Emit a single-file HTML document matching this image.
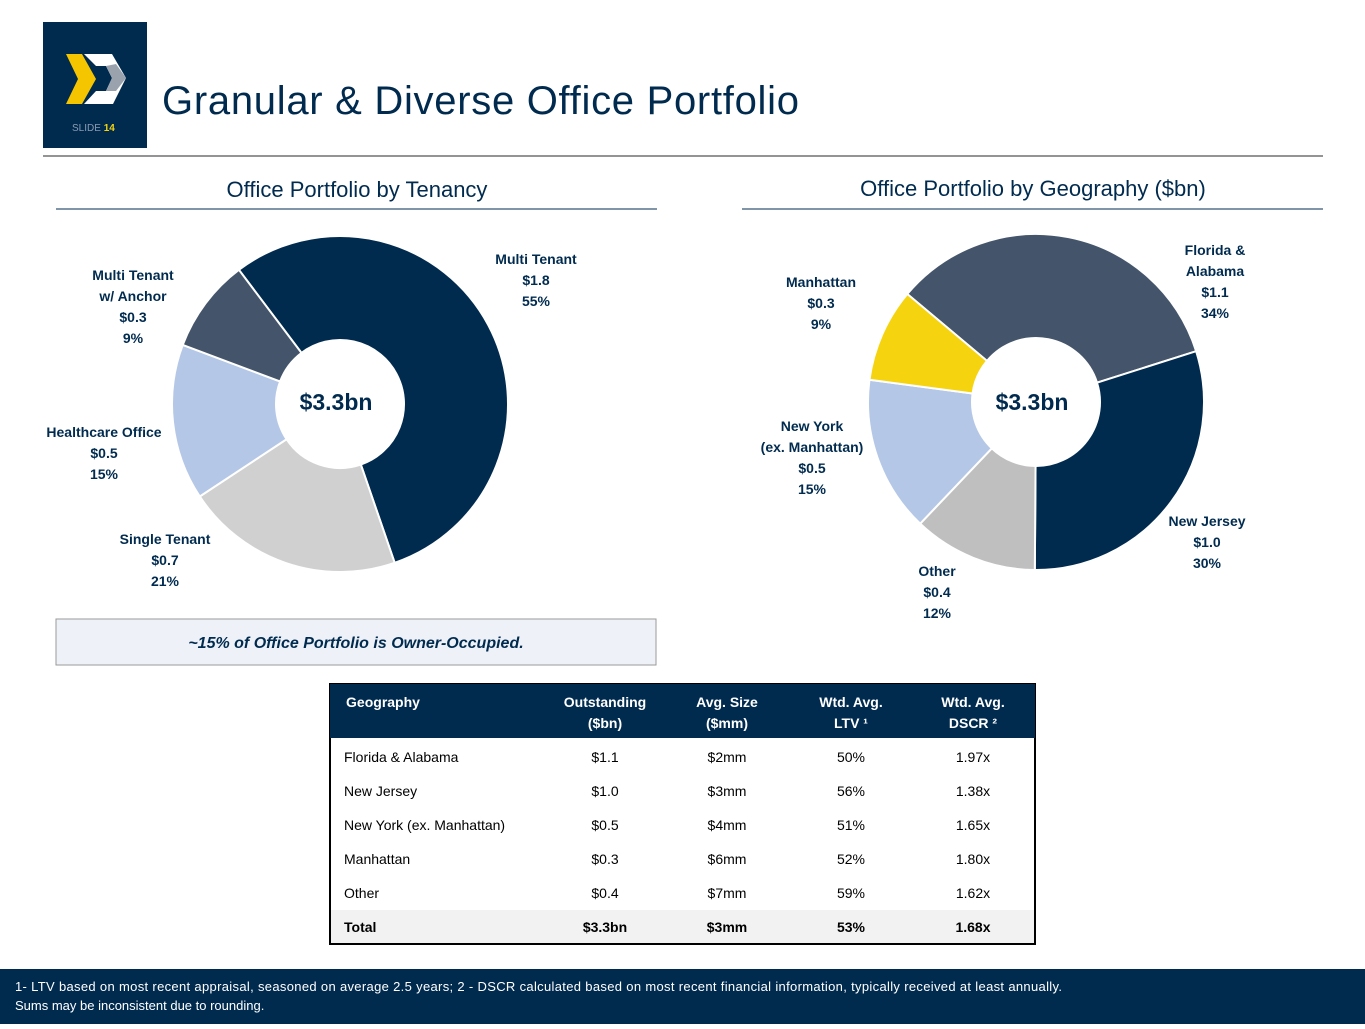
<!DOCTYPE html>
<html><head><meta charset="utf-8"><style>
body{margin:0;width:1365px;height:1024px;overflow:hidden;background:#fff;font-family:"Liberation Sans",sans-serif}
svg text{font-family:"Liberation Sans",sans-serif}
</style></head><body>
<svg id="s" width="1365" height="1024" viewBox="0 0 1365 1024" xmlns="http://www.w3.org/2000/svg">
<g>
<rect x="43" y="22" width="104" height="126" fill="#002b4f"/>
<polygon points="66,54 82,54 96,79 82,104 66,104 78,79" fill="#f5c500"/>
<path d="M84,54 L112,54 L126,78 L113,104 L84,104 L96,91 L106,91 L112,78 L106,66 L96,66 Z" fill="#fff"/>
<path d="M106,66 L112,78 L106,91 L116,91 L126,78 L116,64 Z" fill="#9aa3ad"/>
<text x="72" y="131" font-size="10" fill="#8a9bb0">SLIDE <tspan fill="#f5d40f" font-weight="bold">14</tspan></text>
</g>
<text x="162" y="114" font-size="40" fill="#002b4f" textLength="637">Granular &amp; Diverse Office Portfolio</text>
<line x1="43" y1="156" x2="1323" y2="156" stroke="#555" stroke-width="1.2"/>
<text x="357" y="197" font-size="22" fill="#002b4f" text-anchor="middle">Office Portfolio by Tenancy</text>
<line x1="56" y1="209" x2="657" y2="209" stroke="#002b4f"/>
<text x="1033" y="196" font-size="22" fill="#002b4f" text-anchor="middle">Office Portfolio by Geography ($bn)</text>
<line x1="742" y1="209" x2="1323" y2="209" stroke="#002b4f"/>
<g id="d1"></g><g id="d2"></g>
<text x="336" y="410" font-size="23" font-weight="bold" fill="#002b4f" text-anchor="middle">$3.3bn</text>
<text x="1032" y="410" font-size="23" font-weight="bold" fill="#002b4f" text-anchor="middle">$3.3bn</text>
<g font-size="14" font-weight="bold" fill="#002b4f" text-anchor="middle">
<text x="536" y="264">Multi Tenant<tspan x="536" dy="21">$1.8</tspan><tspan x="536" dy="21">55%</tspan></text>
<text x="133" y="280">Multi Tenant<tspan x="133" dy="21">w/ Anchor</tspan><tspan x="133" dy="21">$0.3</tspan><tspan x="133" dy="21">9%</tspan></text>
<text x="104" y="437">Healthcare Office<tspan x="104" dy="21">$0.5</tspan><tspan x="104" dy="21">15%</tspan></text>
<text x="165" y="544">Single Tenant<tspan x="165" dy="21">$0.7</tspan><tspan x="165" dy="21">21%</tspan></text>
<text x="1215" y="255">Florida &amp;<tspan x="1215" dy="21">Alabama</tspan><tspan x="1215" dy="21">$1.1</tspan><tspan x="1215" dy="21">34%</tspan></text>
<text x="821" y="287">Manhattan<tspan x="821" dy="21">$0.3</tspan><tspan x="821" dy="21">9%</tspan></text>
<text x="812" y="431">New York<tspan x="812" dy="21">(ex. Manhattan)</tspan><tspan x="812" dy="21">$0.5</tspan><tspan x="812" dy="21">15%</tspan></text>
<text x="1207" y="526">New Jersey<tspan x="1207" dy="21">$1.0</tspan><tspan x="1207" dy="21">30%</tspan></text>
<text x="937" y="576">Other<tspan x="937" dy="21">$0.4</tspan><tspan x="937" dy="21">12%</tspan></text>
</g>
<rect x="56" y="619" width="600" height="46" fill="#eef2f8" stroke="#999"/>
<text x="356" y="648" font-size="16" font-weight="bold" font-style="italic" fill="#002b4f" text-anchor="middle">~15% of Office Portfolio is Owner-Occupied.</text>
<g font-size="14" fill="#000">
<rect x="330" y="684" width="705" height="260" fill="#fff" stroke="#000" stroke-width="2"/>
<rect x="330" y="684" width="705" height="54" fill="#002b4f"/>
<rect x="331" y="910" width="703" height="33" fill="#f2f2f2"/>
<g fill="#fff" font-weight="bold" text-anchor="middle">
<text x="383" y="707">Geography</text>
<text x="605" y="707">Outstanding<tspan x="605" dy="21">($bn)</tspan></text>
<text x="727" y="707">Avg. Size<tspan x="727" dy="21">($mm)</tspan></text>
<text x="851" y="707">Wtd. Avg.<tspan x="851" dy="21">LTV ¹</tspan></text>
<text x="973" y="707">Wtd. Avg.<tspan x="973" dy="21">DSCR ²</tspan></text>
</g>
<g id="rows"></g>
</g>
<rect x="0" y="969" width="1365" height="55" fill="#002b4f"/>
<text x="15" y="991" font-size="13" fill="#fff"><tspan textLength="1047">1- LTV based on most recent appraisal, seasoned on average 2.5 years; 2 - DSCR calculated based on most recent financial information, typically received at least annually.</tspan><tspan x="15" dy="19">Sums may be inconsistent due to rounding.</tspan></text>
</svg>
<script>
const tenancyCats=["Multi Tenant","Single Tenant","Healthcare Office","Multi Tenant w/ Anchor"];
const tenancyVals=[55,21,15,9];
const tenancyColors=["#002b4f","#d0d0d0","#b4c7e7","#44546a"];
const geoCats=["Florida & Alabama","New Jersey","Other","New York (ex. Manhattan)","Manhattan"];
const geoVals=[34,30,12,15,9];
const geoColors=["#44546a","#002b4f","#bfbfbf","#b4c7e7","#f5d40f"];
const rowGeo=["Florida & Alabama","New Jersey","New York (ex. Manhattan)","Manhattan","Other","Total"];
const rowOut=["$1.1","$1.0","$0.5","$0.3","$0.4","$3.3bn"];
const rowSize=["$2mm","$3mm","$4mm","$6mm","$7mm","$3mm"];
const rowLtv=["50%","56%","51%","52%","59%","53%"];
const rowDscr=["1.97x","1.38x","1.65x","1.80x","1.62x","1.68x"];
const NS="http://www.w3.org/2000/svg";
function donut(g,cx,cy,R,r,start,vals,cols,cats){
  const tot=vals.reduce((a,b)=>a+b,0);let a=start*Math.PI/180;
  vals.forEach((v,i)=>{
    const b=a+v/tot*2*Math.PI;const L=(b-a)>Math.PI?1:0;
    const p=(rad,t)=>[cx+rad*Math.sin(t),cy-rad*Math.cos(t)];
    const [x1,y1]=p(R,a),[x2,y2]=p(R,b),[x3,y3]=p(r,b),[x4,y4]=p(r,a);
    const el=document.createElementNS(NS,"path");
    el.setAttribute("d",`M${x1},${y1}A${R},${R} 0 ${L} 1 ${x2},${y2}L${x3},${y3}A${r},${r} 0 ${L} 0 ${x4},${y4}Z`);
    el.setAttribute("fill",cols[i]);el.setAttribute("stroke","#fff");el.setAttribute("stroke-width","2");
    
    
    g.appendChild(el);a=b;
  });
}
donut(document.getElementById("d1"),340,404,168,64,-37,tenancyVals,tenancyColors,tenancyCats);
donut(document.getElementById("d2"),1036,402,168,64,-50,geoVals,geoColors,geoCats);
const rows=document.getElementById("rows");
rowGeo.forEach((g,i)=>{
  const y=762+i*34;const tot=i===rowGeo.length-1;
  [[344,g,"start"],[605,rowOut[i],"middle"],[727,rowSize[i],"middle"],[851,rowLtv[i],"middle"],[973,rowDscr[i],"middle"]].forEach(c=>{
    const t=document.createElementNS(NS,"text");
    t.setAttribute("x",c[0]);t.setAttribute("y",y);t.setAttribute("text-anchor",c[2]);
    if(tot)t.setAttribute("font-weight","bold");
    t.textContent=c[1];
    
    
    rows.appendChild(t);
  });
});
</script>
</body></html>
